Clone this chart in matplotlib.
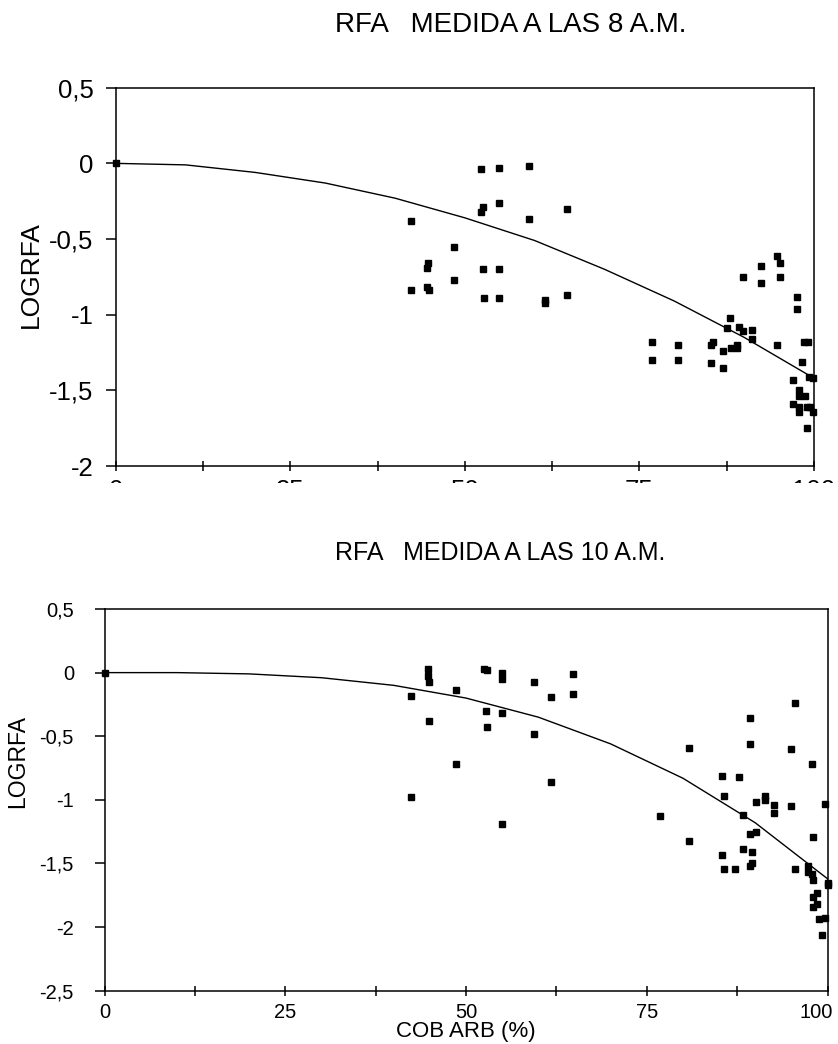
import matplotlib
matplotlib.use("Agg")
import matplotlib.pyplot as plt
import matplotlib.transforms as mtransforms
from matplotlib.patches import Rectangle
from matplotlib.ticker import FixedLocator, FuncFormatter

plt.rcParams["font.family"] = ["Liberation Sans", "DejaVu Sans"]

# RFA measured at 8 a.m.
cob_8 = [0, 52.3, 54.9, 59.2, 52.6, 52.3, 54.9, 59.2, 64.6, 42.3, 48.4, 44.7, 44.6,
         52.6, 54.9, 48.4, 42.3, 44.6, 44.9, 52.7, 54.9, 61.5, 61.5, 64.6,
         94.7, 95.1, 92.4, 89.8, 95.1, 92.4, 97.6, 97.6, 87.9, 87.5, 89.2, 89.8,
         91.1, 91.1, 76.8, 80.5, 85.5, 85.2, 86.9, 88.1, 89.0, 89.0, 94.7, 98.6,
         99.1, 76.8, 80.5, 85.2, 86.9, 98.3, 99.3, 99.8, 97.0, 97.8, 97.8, 98.7,
         97.0, 97.8, 97.8, 99.0, 99.4, 99.8, 99.0]
log_8 = [0, -0.04, -0.03, -0.02, -0.29, -0.32, -0.26, -0.37, -0.30, -0.38, -0.55, -0.66, -0.69,
         -0.70, -0.70, -0.77, -0.84, -0.82, -0.84, -0.89, -0.89, -0.90, -0.92, -0.87,
         -0.61, -0.66, -0.68, -0.75, -0.75, -0.79, -0.88, -0.96, -1.02, -1.09, -1.08, -1.11,
         -1.10, -1.16, -1.18, -1.20, -1.18, -1.20, -1.24, -1.22, -1.20, -1.22, -1.20, -1.18,
         -1.18, -1.30, -1.30, -1.32, -1.35, -1.31, -1.41, -1.42, -1.43, -1.50, -1.54, -1.54,
         -1.59, -1.61, -1.64, -1.61, -1.61, -1.64, -1.75]
curve_x_8 = [0, 10, 20, 30, 40, 50, 60, 70, 80, 90, 100]
curve_y_8 = [0, -0.01, -0.06, -0.13, -0.23, -0.36, -0.51, -0.70, -0.91, -1.15, -1.42]

# RFA measured at 10 a.m.
cob_10 = [0, 44.7, 44.7, 44.9, 52.5, 52.9, 55.0, 55.0, 59.4, 64.8, 64.8, 42.4, 48.6,
          61.7, 52.7, 55.0, 44.9, 52.9, 59.4, 48.6, 61.7, 42.4, 55.0, 76.9,
          95.5, 89.3, 80.8, 89.3, 95.0, 97.8, 85.4, 87.8, 85.7, 91.4, 91.4, 90.1,
          92.6, 92.6, 95.0, 99.6, 88.3, 89.3, 90.1, 80.8, 98.0, 85.4, 88.3, 89.6,
          85.7, 87.2, 89.3, 89.6, 95.5, 97.3, 97.3, 97.8, 98.0, 100, 100, 98.6,
          98.0, 98.6, 98.0, 99.6, 98.8, 99.3]
log_10 = [0, 0.03, -0.03, -0.07, 0.03, 0.02, 0.0, -0.05, -0.07, -0.01, -0.17, -0.18, -0.14,
          -0.19, -0.30, -0.32, -0.38, -0.43, -0.48, -0.72, -0.86, -0.98, -1.19, -1.13,
          -0.24, -0.36, -0.59, -0.56, -0.60, -0.72, -0.81, -0.82, -0.97, -0.97, -1.00, -1.02,
          -1.04, -1.10, -1.05, -1.03, -1.12, -1.27, -1.25, -1.32, -1.29, -1.43, -1.39, -1.41,
          -1.54, -1.54, -1.52, -1.50, -1.54, -1.52, -1.57, -1.58, -1.63, -1.65, -1.67, -1.73,
          -1.76, -1.82, -1.84, -1.93, -1.94, -2.06]
curve_x_10 = [0, 10, 20, 30, 40, 50, 60, 70, 80, 90, 100]
curve_y_10 = [0, 0, -0.01, -0.04, -0.10, -0.20, -0.35, -0.56, -0.83, -1.18, -1.62]

x_ticks = [0, 25, 50, 75, 100]
x_minor = [12.5, 37.5, 62.5, 87.5]

W, H = 838, 1044
fig = plt.figure(figsize=(W / 100, H / 100), dpi=100)


def comma(v, pos):
    return ("%g" % v).replace(".", ",")


def setup(ax, ymin, tsize, xpad, ypad):
    for s in ax.spines.values():
        s.set_linewidth(1.1)
        s.set_color("black")
    ax.set_xlim(0, 100)
    ax.set_ylim(ymin, 0.5)
    ax.xaxis.set_major_locator(FixedLocator(x_ticks))
    ax.xaxis.set_minor_locator(FixedLocator(x_minor))
    ax.yaxis.set_major_locator(FixedLocator([v * 0.5 for v in range(int(ymin * 2), 2)]))
    ax.yaxis.set_major_formatter(FuncFormatter(comma))
    ax.tick_params(axis="x", which="both", direction="inout", length=7, width=1.1,
                   top=False, labelsize=tsize, pad=xpad)
    ax.tick_params(axis="y", which="major", direction="out", length=7, width=1.1,
                   right=False, labelsize=tsize, pad=ypad)


# top chart
ax1 = fig.add_axes([115.7 / W, 1 - 466 / H, (814 - 115.7) / W, (466 - 87.7) / H])
ax1.plot(curve_x_8, curve_y_8, color="black", lw=1.0)
ax1.plot(cob_8, log_8, "s", color="black", ms=4.5, clip_on=False)
setup(ax1, -2, 18.5, 6, 9)
ax1.set_ylabel("LOGRFA", fontsize=19)
ax1.yaxis.set_label_coords(-0.104, 0.505)
fig.text(335 / W, 1 - 25 / H, "RFA   MEDIDA A LAS 8 A.M.", ha="left", va="center", fontsize=20)

# the x labels of the top chart are cut off in the original
fig.add_artist(Rectangle((0, 1 - 520 / H), 1, (520 - 483) / H, transform=fig.transFigure,
                         facecolor="white", edgecolor="none", zorder=10))

# bottom chart
ax2 = fig.add_axes([104.5 / W, 1 - 990.7 / H, (827.5 - 104.5) / W, (990.7 - 609) / H])
ax2.plot(curve_x_10, curve_y_10, color="black", lw=1.0)
ax2.plot(cob_10, log_10, "s", color="black", ms=4.5, clip_on=False)
setup(ax2, -2.5, 14.5, 5, 15)
ax2.set_ylabel("LOGRFA", fontsize=16.5)
ax2.yaxis.set_label_coords(-0.104, 0.6)
ax2.set_xlabel("COB ARB (%)", fontsize=16, va="top")
ax2.xaxis.set_label_coords(0.5, -0.08)
fig.text(335 / W, 1 - 553 / H, "RFA   MEDIDA A LAS 10 A.M.", ha="left", va="center", fontsize=18)

# last x label sits inside the figure edge
last = ax2.xaxis.get_majorticklabels()[-1]
last.set_transform(last.get_transform() + mtransforms.ScaledTranslation(-0.11, 0, fig.dpi_scale_trans))

fig.savefig("out.png", dpi=100)
